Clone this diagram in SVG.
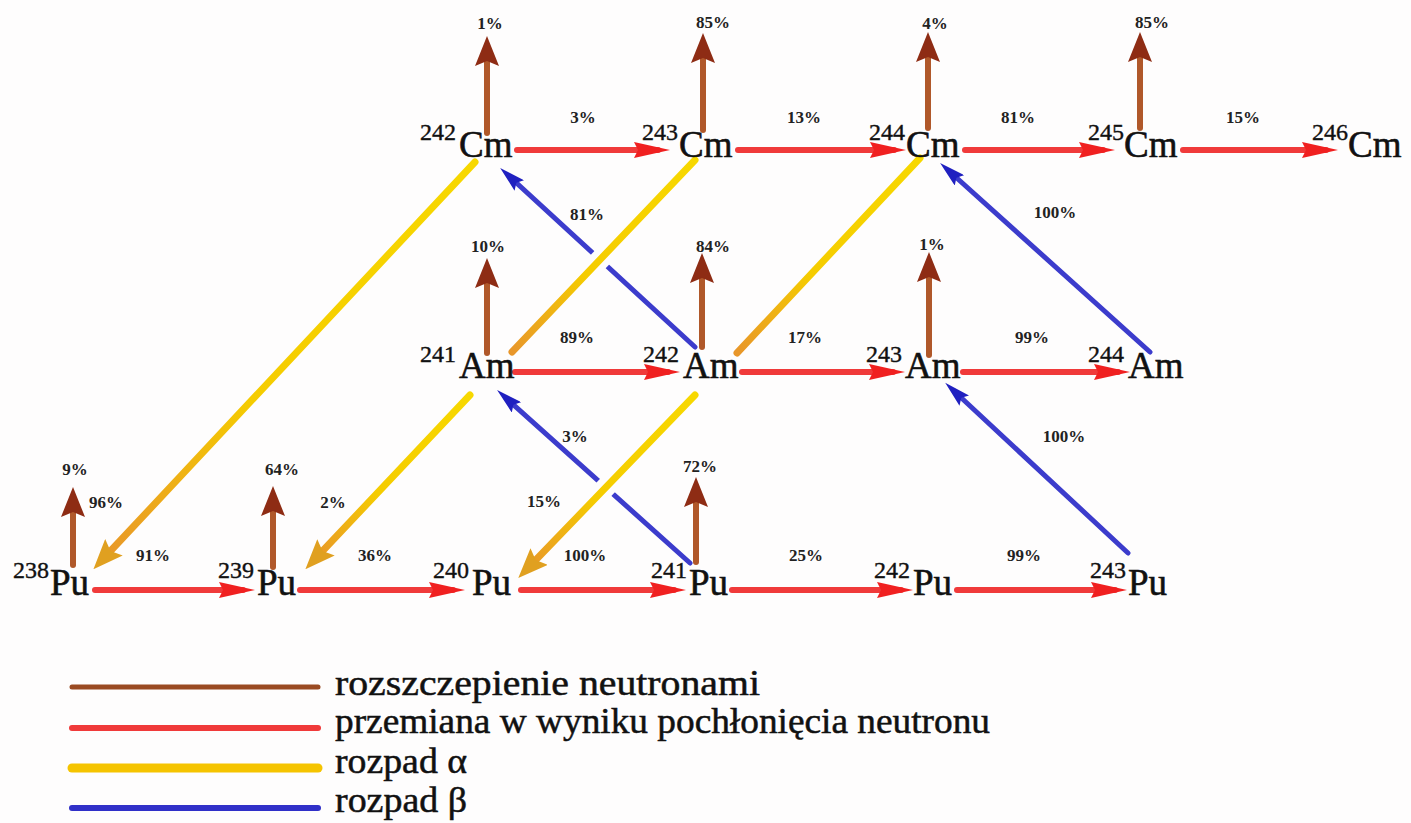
<svg xmlns="http://www.w3.org/2000/svg" width="1411" height="823" viewBox="0 0 1411 823">
<defs>
<style>
text{font-family:'Liberation Serif','DejaVu Serif','Times New Roman',serif}
.el{font-size:37px;fill:#111;stroke:#111;stroke-width:0.6}
.sup{font-size:24px;fill:#111;stroke:#111;stroke-width:0.4}
.pc{font-size:17px;font-weight:bold;fill:#222;text-anchor:middle}
.leg{font-size:35px;fill:#111;stroke:#111;stroke-width:0.5}
.red{stroke:#f03a3a;stroke-width:6;fill:none;stroke-linecap:round;marker-end:url(#mRed)}
.brown{stroke:#b0582a;stroke-width:6;fill:none;stroke-linecap:round;marker-end:url(#mBrown)}
.blue{stroke:#3c3ccc;stroke-width:5;fill:none;stroke-linecap:round}
.blueA{marker-end:url(#mBlue)}
.yel{stroke:url(#gY);stroke-width:7;fill:none;stroke-linecap:round}
.yelA{marker-end:url(#mYel)}
.halo{stroke:#fefdfd;stroke-width:20;fill:none}
</style>
<linearGradient id="gY" x1="1" y1="0" x2="0" y2="1">
<stop offset="0" stop-color="#f7d800"/>
<stop offset="0.6" stop-color="#f5cc00"/>
<stop offset="1" stop-color="#e8962a"/>
</linearGradient>
<marker id="mRed" markerUnits="userSpaceOnUse" viewBox="0 0 36 18" markerWidth="36" markerHeight="18" refX="24" refY="9" orient="auto">
<path d="M0,1 L36,9 L0,17 L4,9 z" fill="#f02020"/>
</marker>
<marker id="mBrown" markerUnits="userSpaceOnUse" viewBox="0 0 30 24" markerWidth="30" markerHeight="24" refX="16" refY="12" orient="auto">
<path d="M0,0 L30,12 L0,24 L5,12 z" fill="#8e2c14"/>
</marker>
<marker id="mBlue" markerUnits="userSpaceOnUse" viewBox="0 0 26 14" markerWidth="26" markerHeight="14" refX="14" refY="7" orient="auto">
<path d="M0,0 L26,7 L0,14 L4,7 z" fill="#2020c0"/>
</marker>
<marker id="mYel" markerUnits="userSpaceOnUse" viewBox="0 0 30 24" markerWidth="30" markerHeight="24" refX="16" refY="12" orient="auto">
<path d="M0,0 L30,12 L0,24 L5,12 z" fill="#e0a020"/>
</marker>
</defs>
<rect width="1411" height="823" fill="#fefdfd"/>

<g id="connectors">
<path class="blue blueA" d="M695,347 L509,176"/>
<path class="blue blueA" d="M1150,352 L949,171"/>
<path class="blue blueA" d="M690,563 L506,398"/>
<path class="blue blueA" d="M1128,553 L954,391"/>
<path class="yel yelA" d="M475,162 L103,559"/>
<path class="halo" d="M680,176 L527,336"/>
<path class="yel" d="M695,160 L512,352"/>
<path class="yel" d="M920,158 L737,353"/>
<path class="yel yelA" d="M470,395 L315,559"/>
<path class="halo" d="M680,410 L535,561"/>
<path class="yel yelA" d="M695,395 L528,568"/>
<path class="red" d="M517,150 L658,150"/>
<path class="red" d="M738,150 L894,150"/>
<path class="red" d="M965,150 L1103,150"/>
<path class="red" d="M1183,150 L1326,150"/>
<path class="red" d="M515,372 L668,372"/>
<path class="red" d="M742,372 L893,372"/>
<path class="red" d="M963,372 L1118,372"/>
<path class="red" d="M95,590 L243,590"/>
<path class="red" d="M300,590 L453,590"/>
<path class="red" d="M521,590 L674,590"/>
<path class="red" d="M732,590 L901,590"/>
<path class="red" d="M957,590 L1115,590"/>
<path class="brown" d="M487,133 L487,50"/>
<path class="brown" d="M703,130 L703,47"/>
<path class="brown" d="M928,128 L928,46"/>
<path class="brown" d="M1140,128 L1140,46"/>
<path class="brown" d="M487,353 L487,272"/>
<path class="brown" d="M702,347 L702,267"/>
<path class="brown" d="M929,355 L929,266"/>
<path class="brown" d="M73,565 L73,501"/>
<path class="brown" d="M273,567 L273,500"/>
<path class="brown" d="M696,562 L696,491"/>
</g>

<g id="labels">
<text class="pc" x="490" y="29">1%</text>
<text class="pc" x="713" y="28">85%</text>
<text class="pc" x="935" y="29">4%</text>
<text class="pc" x="1152" y="28">85%</text>
<text class="pc" x="488" y="252">10%</text>
<text class="pc" x="713" y="252">84%</text>
<text class="pc" x="932" y="250">1%</text>
<text class="pc" x="75" y="475">9%</text>
<text class="pc" x="282" y="475">64%</text>
<text class="pc" x="700" y="472">72%</text>
<text class="pc" x="106" y="508">96%</text>
<text class="pc" x="333" y="508">2%</text>
<text class="pc" x="544" y="507">15%</text>
<text class="pc" x="583" y="123">3%</text>
<text class="pc" x="804" y="123">13%</text>
<text class="pc" x="1018" y="123">81%</text>
<text class="pc" x="1243" y="123">15%</text>
<text class="pc" x="577" y="343">89%</text>
<text class="pc" x="805" y="343">17%</text>
<text class="pc" x="1032" y="343">99%</text>
<text class="pc" x="153" y="561">91%</text>
<text class="pc" x="375" y="561">36%</text>
<text class="pc" x="585" y="561">100%</text>
<text class="pc" x="806" y="561">25%</text>
<text class="pc" x="1024" y="561">99%</text>
<text class="pc" x="587" y="220">81%</text>
<text class="pc" x="1055" y="218">100%</text>
<text class="pc" x="575" y="442">3%</text>
<text class="pc" x="1064" y="442">100%</text>
</g>

<g id="cm242"><text class="sup" x="420" y="140">242</text><text class="el" x="459" y="157">Cm</text></g>
<g id="cm243"><text class="sup" x="642" y="140">243</text><text class="el" x="679" y="157">Cm</text></g>
<g id="cm244"><text class="sup" x="869" y="140">244</text><text class="el" x="906" y="157">Cm</text></g>
<g id="cm245"><text class="sup" x="1088" y="140">245</text><text class="el" x="1124" y="157">Cm</text></g>
<g id="cm246"><text class="sup" x="1312" y="140">246</text><text class="el" x="1348" y="157">Cm</text></g>

<g id="am241"><text class="sup" x="420" y="362">241</text><text class="el" x="459" y="378">Am</text></g>
<g id="am242"><text class="sup" x="643" y="362">242</text><text class="el" x="683" y="378">Am</text></g>
<g id="am243"><text class="sup" x="866" y="362">243</text><text class="el" x="905" y="378">Am</text></g>
<g id="am244"><text class="sup" x="1088" y="362">244</text><text class="el" x="1128" y="378">Am</text></g>

<g id="pu238"><text class="sup" x="13" y="578">238</text><text class="el" x="50" y="595">Pu</text></g>
<g id="pu239"><text class="sup" x="218" y="578">239</text><text class="el" x="257" y="595">Pu</text></g>
<g id="pu240"><text class="sup" x="433" y="578">240</text><text class="el" x="472" y="595">Pu</text></g>
<g id="pu241"><text class="sup" x="651" y="578">241</text><text class="el" x="689" y="595">Pu</text></g>
<g id="pu242"><text class="sup" x="874" y="578">242</text><text class="el" x="913" y="595">Pu</text></g>
<g id="pu243"><text class="sup" x="1090" y="578">243</text><text class="el" x="1128" y="595">Pu</text></g>

<g id="legend">
<line x1="72" y1="687" x2="318" y2="687" stroke="#9a4a22" stroke-width="5" stroke-linecap="round"/>
<line x1="72" y1="728" x2="318" y2="728" stroke="#f03a3a" stroke-width="6" stroke-linecap="round"/>
<line x1="72" y1="768" x2="318" y2="768" stroke="#f5c400" stroke-width="9" stroke-linecap="round"/>
<line x1="72" y1="808" x2="318" y2="808" stroke="#3030c8" stroke-width="6" stroke-linecap="round"/>
<text class="leg" x="335" y="695" textLength="425" lengthAdjust="spacingAndGlyphs">rozszczepienie neutronami</text>
<text class="leg" x="335" y="733" textLength="655" lengthAdjust="spacingAndGlyphs">przemiana w wyniku pochłonięcia neutronu</text>
<text class="leg" x="335" y="773" textLength="132" lengthAdjust="spacingAndGlyphs">rozpad α</text>
<text class="leg" x="335" y="812" textLength="132" lengthAdjust="spacingAndGlyphs">rozpad β</text>
</g>
</svg>
